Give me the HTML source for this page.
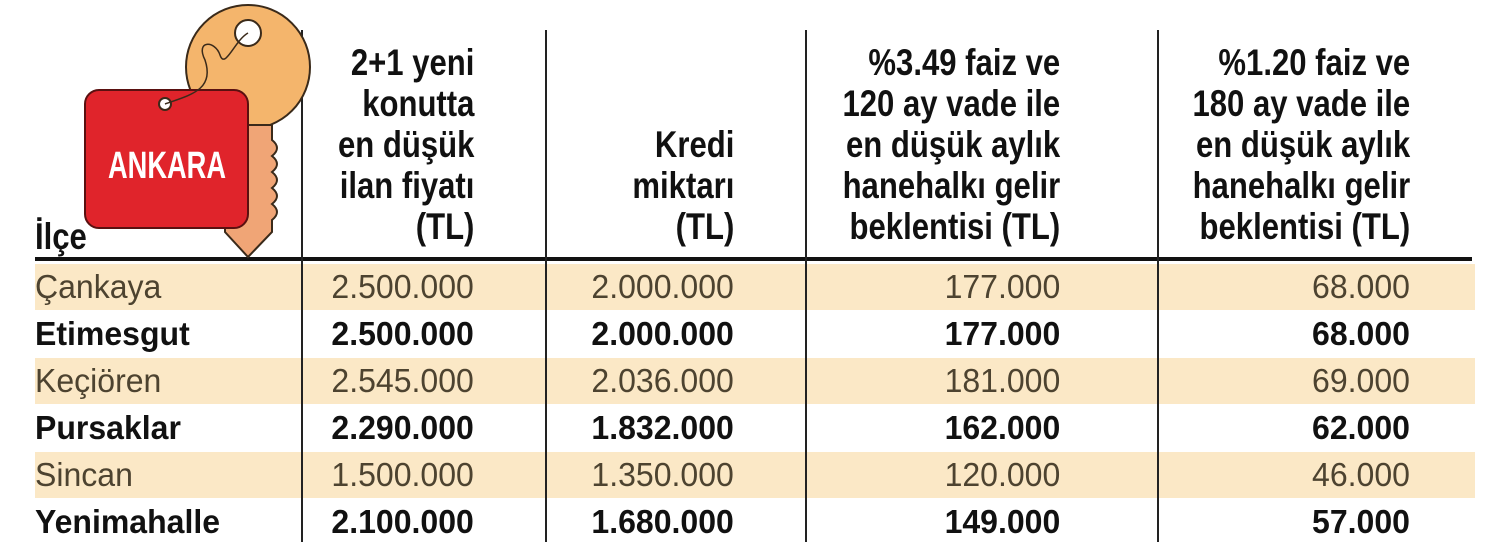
<!DOCTYPE html>
<html><head><meta charset="utf-8">
<style>
body{margin:0;width:1489px;height:555px;background:#fff;overflow:hidden;position:relative;font-family:"Liberation Sans",sans-serif;}
.hd{position:absolute;font-family:"Liberation Sans Narrow","Liberation Sans",sans-serif;font-weight:bold;font-size:37px;line-height:41px;text-align:right;color:#111;transform:scaleX(0.84);transform-origin:right top;white-space:nowrap;z-index:2;}
.stripe{position:absolute;left:35px;width:1440px;height:46px;background:#fbe8c6;}
.vl{position:absolute;top:30px;width:2px;height:512px;background:#222;}
.cell{position:absolute;font-size:33px;line-height:46px;color:#4d4330;white-space:nowrap;transform:scaleX(0.97);}
.b{font-weight:bold;color:#111;}
</style></head><body>
<svg style="position:absolute;left:0;top:0;z-index:1" width="320" height="265">
<circle cx="248" cy="67" r="62" fill="#f4b56c" stroke="#3a2a1a" stroke-width="2"/>
<path d="M225 125 L272 125 L272 140 Q282 148 272 156 Q282 164 272 172 Q282 180 272 188 Q282 196 272 204 Q282 212 272 220 L272 232 L248 257 L225 232 Z" fill="#f0a576" stroke="#3a2a1a" stroke-width="2"/>
<circle cx="248" cy="33" r="13" fill="#fff" stroke="#3a2a1a" stroke-width="2"/>
<rect x="85" y="90" width="163" height="138" rx="14" fill="#e0242b" stroke="#5a1010" stroke-width="2"/>
<circle cx="165" cy="104" r="6" fill="#fff" stroke="#3a2a1a" stroke-width="2"/>
<path d="M165 104 C190 95 215 90 205 60 C195 40 215 40 220 55 C225 70 235 40 248 33" fill="none" stroke="#3a2a1a" stroke-width="1.5"/>
<text x="108" y="178" textLength="118" lengthAdjust="spacingAndGlyphs" fill="#fff" font-family="Liberation Sans, sans-serif" font-weight="bold" font-size="38">ANKARA</text>
</svg>

<div class="hd" style="left:35px;top:216px;text-align:left;transform-origin:left top;">İlçe</div>
<div class="hd" style="right:1015px;top:42px;">2+1 yeni<br>konutta<br>en düşük<br>ilan fiyatı<br>(TL)</div>
<div class="hd" style="right:755px;top:124px;">Kredi<br>miktarı<br>(TL)</div>
<div class="hd" style="right:429px;top:42px;">%3.49 faiz ve<br>120 ay vade ile<br>en düşük aylık<br>hanehalkı gelir<br>beklentisi (TL)</div>
<div class="hd" style="right:79px;top:42px;">%1.20 faiz ve<br>180 ay vade ile<br>en düşük aylık<br>hanehalkı gelir<br>beklentisi (TL)</div>

<div class="stripe" style="top:264px"></div>
<div class="stripe" style="top:358px"></div>
<div class="stripe" style="top:452px"></div>
<div style="position:absolute;left:35px;top:257px;width:1437px;height:4px;background:#111"></div>
<div class="vl" style="left:301px"></div>
<div class="vl" style="left:545px"></div>
<div class="vl" style="left:805px"></div>
<div class="vl" style="left:1157px"></div>

<div id="rows"></div>
<script>
const districts=["Çankaya","Etimesgut","Keçiören","Pursaklar","Sincan","Yenimahalle"];
const prices=["2.500.000","2.500.000","2.545.000","2.290.000","1.500.000","2.100.000"];
const credits=["2.000.000","2.000.000","2.036.000","1.832.000","1.350.000","1.680.000"];
const inc120=["177.000","177.000","181.000","162.000","120.000","149.000"];
const inc180=["68.000","68.000","69.000","62.000","46.000","57.000"];
const rights=[1015,755,429,79];
const root=document.getElementById('rows');
districts.forEach((d,i)=>{
  const top=264+i*47;
  const bold=i%2===1;
  const mk=(txt,name,style,origin)=>{
    const el=document.createElement('div');
    el.className='cell'+(bold?' b':'');
    el.style.cssText=style+'top:'+top+'px;transform-origin:'+origin+' top;';
    el.textContent=txt;
    
    
    root.appendChild(el);
  };
  mk(d,'district-'+i,'left:35px;','left');
  [prices,credits,inc120,inc180].forEach((arr,c)=>mk(arr[i],'value-r'+i+'-c'+c,'right:'+rights[c]+'px;','right'));
});
</script>
</body></html>
